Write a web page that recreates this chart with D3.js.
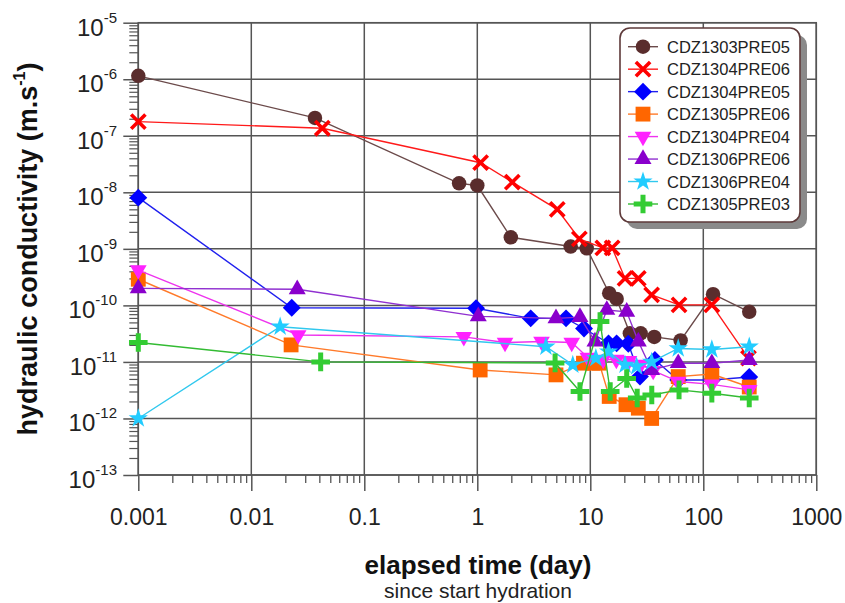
<!DOCTYPE html>
<html>
<head>
<meta charset="utf-8">
<script src="https://cdn.jsdelivr.net/npm/d3@7"></script>
<style>
  html, body { margin: 0; padding: 0; background: #fff; }
  svg { display: block; font-family: Arial, "Liberation Sans", sans-serif; }
</style>
</head>
<body>
<svg id="chart" width="845" height="603"></svg>
<script>
// Hydraulic conductivity (m/s) versus elapsed time (days) for each sample
const seriesNames = ["CDZ1303PRE05", "CDZ1304PRE06", "CDZ1304PRE05", "CDZ1305PRE06",
                     "CDZ1304PRE04", "CDZ1306PRE06", "CDZ1306PRE04", "CDZ1305PRE03"];

const t1303PRE05 = [0.001, 0.0366, 0.69, 1.0, 1.98, 6.7, 9.3, 14.7, 17.1, 22.4, 27.9, 36.8, 63, 122, 255];
const k1303PRE05 = [1.15e-6, 2.07e-7, 1.44e-8, 1.32e-8, 1.6e-9, 1.1e-9, 1.02e-9, 1.64e-10, 1.3e-10, 3.2e-11, 3.2e-11, 2.77e-11, 2.4e-11, 1.58e-10, 7.7e-11];

const t1304PRE06 = [0.001, 0.0425, 1.07, 2.04, 5.1, 8.0, 12.9, 15.6, 20.3, 26.6, 34.9, 61, 119, 251];
const k1304PRE06 = [1.78e-7, 1.36e-7, 3.34e-8, 1.51e-8, 5.0e-9, 1.5e-9, 1.04e-9, 1.04e-9, 3.0e-10, 3.0e-10, 1.53e-10, 1.02e-10, 1.02e-10, 1.17e-11];

const t1304PRE05 = [0.001, 0.0228, 0.975, 2.97, 6.1, 8.8, 14.5, 17.1, 21.7, 27.5, 37.3, 60, 119, 255];
const k1304PRE05 = [8.05e-9, 9.1e-11, 8.9e-11, 5.9e-11, 5.9e-11, 3.9e-11, 2.13e-11, 2.13e-11, 2.1e-11, 5.5e-12, 1.08e-11, 4.8e-12, 4.8e-12, 5.4e-12];

const t1305PRE06 = [0.001, 0.0225, 1.06, 4.97, 8.7, 10.5, 12, 14.7, 20.7, 26.6, 34.9, 60, 119, 255];
const k1305PRE06 = [2.9e-10, 2.0e-11, 7.2e-12, 5.9e-12, 9.5e-12, 9.5e-12, 9.5e-12, 2.45e-12, 1.75e-12, 1.52e-12, 1.0e-12, 5.5e-12, 6.1e-12, 3.6e-12];

const t1304PRE04 = [0.001, 0.026, 0.76, 1.76, 3.7, 6.85, 9.5, 13, 17, 22, 28, 36, 60, 119, 255];
const k1304PRE04 = [4.2e-10, 3.0e-11, 2.77e-11, 2.2e-11, 2.3e-11, 2.2e-11, 1.2e-11, 1.1e-11, 1.1e-11, 1.05e-11, 9e-12, 7e-12, 4.5e-12, 4.0e-12, 3.2e-12];

const t1306PRE06 = [0.001, 0.0255, 1.02, 4.97, 8.1, 11, 14, 21, 26.6, 34.9, 60, 119, 255];
const k1306PRE06 = [2.0e-10, 1.93e-10, 6.4e-11, 5.9e-11, 6.2e-11, 2.3e-11, 8.3e-11, 7.7e-11, 2.3e-11, 7.2e-12, 9.5e-12, 9.5e-12, 1.08e-11];

const t1306PRE04 = [0.001, 0.018, 4.05, 7.0, 11.2, 14.5, 20.3, 25.7, 34.9, 60, 119, 255];
const k1306PRE04 = [1.0e-12, 4.2e-11, 1.86e-11, 8.9e-12, 1.17e-11, 1.52e-11, 8.9e-12, 8.3e-12, 1.0e-11, 1.73e-11, 1.66e-11, 1.86e-11];

const t1305PRE03 = [0.001, 0.0411, 4.88, 8.1, 12.2, 15, 21, 26, 35, 61, 119, 255];
const k1305PRE03 = [2.2e-11, 1.0e-11, 9.6e-12, 3.0e-12, 5.2e-11, 3.0e-12, 5.1e-12, 2.3e-12, 2.6e-12, 3.2e-12, 2.8e-12, 2.3e-12];

const xTickValues = [0.001, 0.01, 0.1, 1, 10, 100, 1000];
const xTickLabels = ["0.001", "0.01", "0.1", "1", "10", "100", "1000"];
const yExponents = [-5, -6, -7, -8, -9, -10, -11, -12, -13];

const xTitle = "elapsed time (day)";
const xSubtitle = "since start hydration";

// ---- marker shapes ----
const diamondSq = {
  draw(ctx, size) {
    const r = Math.sqrt(size / 2);
    ctx.moveTo(0, -r); ctx.lineTo(r, 0); ctx.lineTo(0, r); ctx.lineTo(-r, 0); ctx.closePath();
  }
};
const triDown = {
  draw(ctx, size) {
    const s = Math.sqrt(size * 4 / Math.sqrt(3));
    const h = s * Math.sqrt(3) / 2;
    ctx.moveTo(-s / 2, -h / 3); ctx.lineTo(s / 2, -h / 3); ctx.lineTo(0, 2 * h / 3); ctx.closePath();
  }
};
const triUp = {
  draw(ctx, size) {
    const s = Math.sqrt(size * 4 / Math.sqrt(3));
    const h = s * Math.sqrt(3) / 2;
    ctx.moveTo(-s / 2, h / 3); ctx.lineTo(s / 2, h / 3); ctx.lineTo(0, -2 * h / 3); ctx.closePath();
  }
};

const styles = [
  { t: t1303PRE05, k: k1303PRE05, line: "#6b4a4a", color: "#5a2d2d", type: d3.symbolCircle, size: 165, stroke: false },
  { t: t1304PRE06, k: k1304PRE06, line: "#ff1a1a", color: "#ff0000", type: d3.symbolX, size: 135, stroke: true, sw: 3.6 },
  { t: t1304PRE05, k: k1304PRE05, line: "#2020ee", color: "#0000ff", type: diamondSq, size: 160, stroke: false },
  { t: t1305PRE06, k: k1305PRE06, line: "#ff7a2a", color: "#ff6600", type: d3.symbolSquare, size: 220, stroke: false },
  { t: t1304PRE04, k: k1304PRE04, line: "#ee33ee", color: "#ff22ff", type: triDown, size: 120, stroke: false },
  { t: t1306PRE06, k: k1306PRE06, line: "#9030d0", color: "#8a00cc", type: triUp, size: 125, stroke: false },
  { t: t1306PRE04, k: k1306PRE04, line: "#30c8ee", color: "#22ccff", type: d3.symbolStar, size: 115, stroke: false },
  { t: t1305PRE03, k: k1305PRE03, line: "#33bb33", color: "#33cc33", type: d3.symbolPlus, size: 115, stroke: true, sw: 5 }
];

const svg = d3.select("#chart");
const plotLeft = 138.3, plotRight = 816.3, plotTop = 22.7, plotBottom = 475;

const x = d3.scaleLog().domain([0.001, 1000]).range([plotLeft, plotRight]);
const y = d3.scaleLog().domain([1e-13, 1e-5]).range([plotBottom, plotTop]);

const gridColor = "#555";

// ---- grid ----
const grid = svg.append("g");
grid.selectAll("line.vg").data(xTickValues).join("line")
  .attr("x1", d => x(d)).attr("x2", d => x(d))
  .attr("y1", plotTop).attr("y2", plotBottom)
  .attr("stroke", gridColor).attr("stroke-width", 1.5);
const yDecades = yExponents.map(e => Math.pow(10, e));
grid.selectAll("line.hg").data(yDecades).join("line")
  .attr("x1", plotLeft).attr("x2", plotRight)
  .attr("y1", d => y(d)).attr("y2", d => y(d))
  .attr("stroke", gridColor).attr("stroke-width", 1.5);

// ---- axes (outward ticks, minor ticks) ----
const xMinor = [];
for (let e = -3; e < 3; e++) for (let m = 2; m <= 9; m++) xMinor.push(m * Math.pow(10, e));
const yMinor = [];
for (let e = -13; e < -5; e++) for (let m = 2; m <= 9; m++) yMinor.push(m * Math.pow(10, e));

const xAxisMajor = d3.axisBottom(x).tickValues(xTickValues).tickSize(16).tickFormat((d, i) => xTickLabels[i]);
const gx = svg.append("g").attr("transform", `translate(0,${plotBottom})`).call(xAxisMajor);
gx.select(".domain").remove();
gx.selectAll(".tick line").attr("stroke", gridColor).attr("stroke-width", 1.5);
gx.selectAll(".tick text").attr("font-size", 23).attr("fill", "#222")
  .attr("font-family", "Arial, 'Liberation Sans', sans-serif").attr("dy", null).attr("y", 50);

const gxm = svg.append("g").attr("transform", `translate(0,${plotBottom})`)
  .call(d3.axisBottom(x).tickValues(xMinor).tickSize(8).tickFormat(""));
gxm.select(".domain").remove();
gxm.selectAll(".tick line").attr("stroke", gridColor).attr("stroke-width", 1.3);

const yAxisMajor = d3.axisLeft(y).tickValues(yDecades).tickSize(15).tickFormat("");
const gy = svg.append("g").attr("transform", `translate(${plotLeft},0)`).call(yAxisMajor);
gy.select(".domain").remove();
gy.selectAll(".tick line").attr("stroke", gridColor).attr("stroke-width", 1.5);

const gym = svg.append("g").attr("transform", `translate(${plotLeft},0)`)
  .call(d3.axisLeft(y).tickValues(yMinor).tickSize(9).tickFormat(""));
gym.select(".domain").remove();
gym.selectAll(".tick line").attr("stroke", gridColor).attr("stroke-width", 1.2);

// power-of-ten labels
const yl = svg.append("g").attr("font-size", 24).attr("fill", "#222");
yExponents.forEach(e => {
  const ty = y(Math.pow(10, e));
  const t = yl.append("text").attr("x", 117).attr("y", ty + 13).attr("text-anchor", "end");
  t.append("tspan").text("10");
  t.append("tspan").attr("font-size", 15).attr("dy", -13).text("-" + Math.abs(e));
});

// frame
svg.append("rect").attr("x", plotLeft).attr("y", plotTop)
  .attr("width", plotRight - plotLeft).attr("height", plotBottom - plotTop)
  .attr("fill", "none").attr("stroke", gridColor).attr("stroke-width", 1.5);

// ---- series ----
const lineGen = d3.line().x(d => x(d[0])).y(d => y(d[1]));
const plot = svg.append("g");

styles.forEach(s => {
  const pts = s.t.map((t, i) => [t, s.k[i]]);
  plot.append("path").attr("d", lineGen(pts))
    .attr("fill", "none").attr("stroke", s.line).attr("stroke-width", 1.4);
  const sym = d3.symbol().type(s.type).size(s.size);
  plot.append("g").selectAll("path").data(pts).join("path")
    .attr("transform", d => `translate(${x(d[0])},${y(d[1])})`)
    .attr("d", sym)
    .attr("fill", s.stroke ? "none" : s.color)
    .attr("stroke", s.stroke ? s.color : "none")
    .attr("stroke-width", s.stroke ? s.sw : 0);
});

// ---- legend ----
const lg = svg.append("g");
const lx = 620, ly = 28, lw = 180, lh = 194;
lg.append("rect").attr("x", lx + 7).attr("y", ly + 7).attr("width", lw).attr("height", lh)
  .attr("rx", 10).attr("fill", "#8a8a8a");
lg.append("rect").attr("x", lx).attr("y", ly).attr("width", lw).attr("height", lh)
  .attr("rx", 10).attr("fill", "#fff").attr("stroke", "#5e3a3a").attr("stroke-width", 1.6);

const rowY = d3.scalePoint().domain(seriesNames).range([46.7, 204]);
seriesNames.forEach((name, i) => {
  const s = styles[i];
  const cy = rowY(name);
  lg.append("line").attr("x1", 628).attr("x2", 658).attr("y1", cy).attr("y2", cy)
    .attr("stroke", s.line).attr("stroke-width", 1.4);
  lg.append("path").attr("transform", `translate(643,${cy})`)
    .attr("d", d3.symbol().type(s.type).size(s.size)())
    .attr("fill", s.stroke ? "none" : s.color)
    .attr("stroke", s.stroke ? s.color : "none")
    .attr("stroke-width", s.stroke ? s.sw : 0);
  lg.append("text").attr("x", 667).attr("y", cy + 6)
    .attr("font-size", 16.5).attr("fill", "#222").text(name);
});

// ---- titles ----
const yTitle = svg.append("text")
  .attr("transform", "translate(37,249) rotate(-90)")
  .attr("text-anchor", "middle").attr("font-size", 27).attr("font-weight", "bold").attr("fill", "#111");
yTitle.append("tspan").text("hydraulic conductivity (m.s");
yTitle.append("tspan").attr("font-size", 16).attr("dy", -12).text("-1");
yTitle.append("tspan").attr("dy", 12).text(")");

svg.append("text").attr("x", 478).attr("y", 574).attr("text-anchor", "middle")
  .attr("font-size", 26).attr("font-weight", "bold").attr("fill", "#111").text(xTitle);
svg.append("text").attr("x", 478).attr("y", 598).attr("text-anchor", "middle")
  .attr("font-size", 21).attr("fill", "#222").text(xSubtitle);
</script>
</body>
</html>
